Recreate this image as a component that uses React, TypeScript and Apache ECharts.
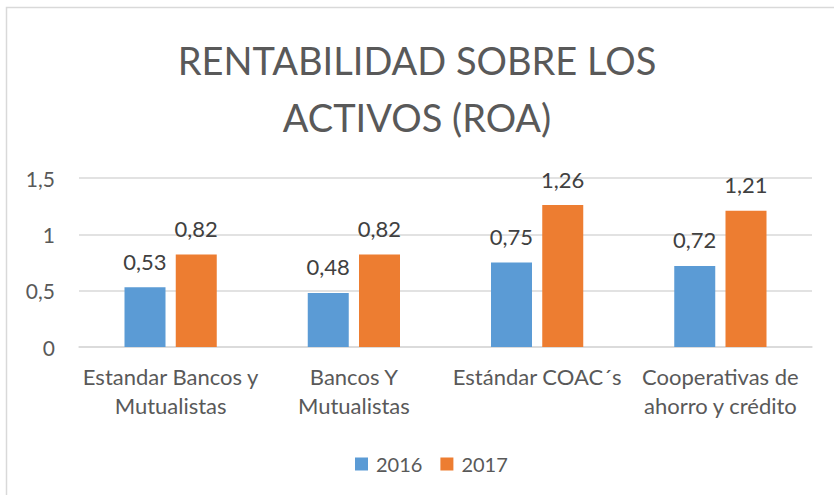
import React, { useEffect, useRef } from "react";
import * as echarts from "echarts";

const categories = [
  "Estandar Bancos y\nMutualistas",
  "Bancos Y\nMutualistas",
  "Estándar COAC´s",
  "Cooperativas de\nahorro y crédito",
];
const values2016 = [0.53, 0.48, 0.75, 0.72];
const values2017 = [0.82, 0.82, 1.26, 1.21];
const seriesNames = ["2016", "2017"];
const titleText = "RENTABILIDAD SOBRE LOS\nACTIVOS (ROA)";

const FONT = "Lato, 'Noto Sans', sans-serif";
const TEXT = "#595959";
const fmt = (v: number) => String(v).replace(".", ",");

export default function App() {
  const ref = useRef<HTMLDivElement>(null);
  useEffect(() => {
    const chart = echarts.init(ref.current!, null, { renderer: "svg" });
    const label = {
      show: true,
      position: "top",
      distance: 15,
      color: "#404040",
      fontSize: 22,
      fontFamily: FONT,
      formatter: (p: any) => fmt(p.value),
    };
    chart.setOption({
      animation: false,
      backgroundColor: "#ffffff",
      textStyle: { fontFamily: FONT },
      title: {
        text: titleText,
        left: "center",
        top: 26,
        textStyle: {
          fontSize: 38,
          lineHeight: 57,
          fontWeight: "normal",
          color: TEXT,
          fontFamily: FONT,
        },
      },
      graphic: [
        {
          type: "rect",
          shape: { x: 6.5, y: 7.5, width: 860, height: 520 },
          style: { fill: "none", stroke: "#D9D9D9", lineWidth: 1.5 },
          silent: true,
        },
      ],
      legend: {
        data: seriesNames,
        top: 449,
        left: 350,
        itemWidth: 13,
        itemHeight: 13,
        itemGap: 18,
        icon: "rect",
        textStyle: { fontSize: 20, color: TEXT, fontFamily: FONT, padding: [0, 0, 0, 3] },
      },
      grid: { left: 79, right: 22, top: 178, bottom: 148, containLabel: false },
      xAxis: {
        type: "category",
        data: categories,
        axisLine: { show: true, lineStyle: { color: "#D9D9D9", width: 1.5 } },
        axisTick: { show: false },
        axisLabel: {
          color: TEXT,
          fontSize: 22,
          lineHeight: 29,
          margin: 15,
          fontFamily: FONT,
          interval: 0,
        },
      },
      yAxis: {
        type: "value",
        min: 0,
        max: 1.5,
        interval: 0.5,
        axisLine: { show: false },
        axisTick: { show: false },
        splitLine: { lineStyle: { color: "#D9D9D9", width: 1.5 } },
        axisLabel: {
          color: TEXT,
          fontSize: 21,
          margin: 24,
          fontFamily: FONT,
          formatter: (v: number) => fmt(v),
        },
      },
      series: [
        {
          name: seriesNames[0],
          type: "bar",
          data: values2016,
          barWidth: 41,
          barGap: "25%",
          itemStyle: { color: "#5B9BD5" },
          label,
        },
        {
          name: seriesNames[1],
          type: "bar",
          data: values2017,
          barWidth: 41,
          barGap: "25%",
          itemStyle: { color: "#ED7D31" },
          label,
        },
      ],
    });
    return () => chart.dispose();
  }, []);
  return (
    <div
      ref={ref}
      style={{ position: "absolute", left: 0, top: 0, width: 834, height: 495 }}
    />
  );
}
